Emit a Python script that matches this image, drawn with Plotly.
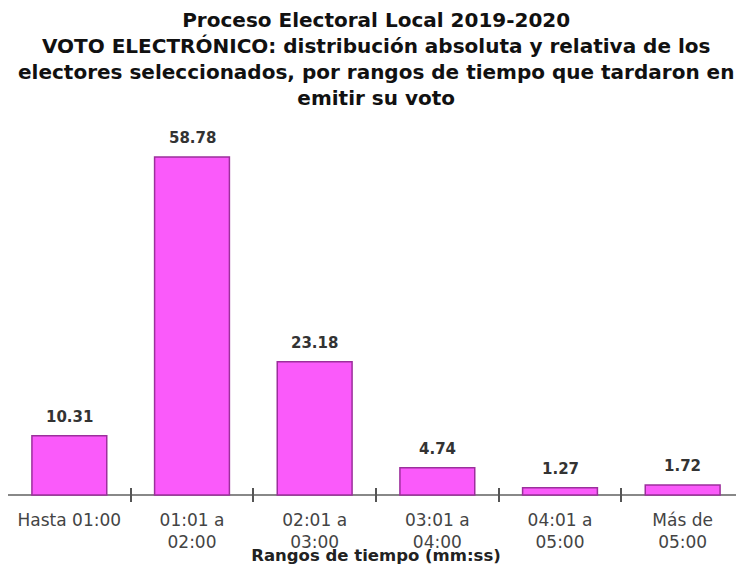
import plotly.graph_objects as go

categories = ["Hasta 01:00", "01:01 a<br>02:00", "02:01 a<br>03:00", "03:01 a<br>04:00", "04:01 a<br>05:00", "Más de<br>05:00"]
values = [10.31, 58.78, 23.18, 4.74, 1.27, 1.72]
labels = ["10.31", "58.78", "23.18", "4.74", "1.27", "1.72"]

title_text = ("<b>Proceso Electoral Local 2019-2020<br>"
              "VOTO ELECTRÓNICO: distribución absoluta y relativa de los<br>"
              "electores seleccionados, por rangos de tiempo que tardaron en<br>"
              "emitir su voto</b>")
x_title = "<b>Rangos de tiempo (mm:ss)</b>"

FONT = "DejaVu Sans, Liberation Sans, Arial"

fig = go.Figure()
fig.add_trace(go.Bar(
    x=categories, y=values,
    marker=dict(color="#FA5AFA", line=dict(color="#9C2F9C", width=1.5)),
    width=0.61,
    hoverinfo="skip",
))

for c, v, t in zip(categories, values, labels):
    fig.add_annotation(x=c, y=v, text="<b>%s</b>" % t, showarrow=False,
                       yanchor="bottom", yshift=8,
                       font=dict(family=FONT, size=15, color="#333333"))

fig.add_annotation(text=title_text, xref="paper", yref="paper", x=0.5, y=1.37,
                   xanchor="center", yanchor="top", showarrow=False,
                   font=dict(family=FONT, size=20, color="#111111"))

fig.update_layout(
    width=736, height=557,
    margin=dict(l=0, r=0, t=132, b=63),
    paper_bgcolor="white", plot_bgcolor="white",
    showlegend=False,
    xaxis=dict(
        showline=False,
        ticks="inside", ticklen=14, tickwidth=1.5, tickcolor="#555555",
        tickson="boundaries",
        ticklabelstandoff=6,
        tickfont=dict(family=FONT, size=17, color="#444444"),
        title=dict(text=x_title, standoff=0,
                   font=dict(family=FONT, size=16.5, color="#222222")),
        showgrid=False,
    ),
    yaxis=dict(visible=True, showticklabels=False, showgrid=False, ticks="",
               zeroline=True, zerolinecolor="#888888", zerolinewidth=2,
               range=[-1.217, 61.74]),
)

fig.write_html("out.html")
